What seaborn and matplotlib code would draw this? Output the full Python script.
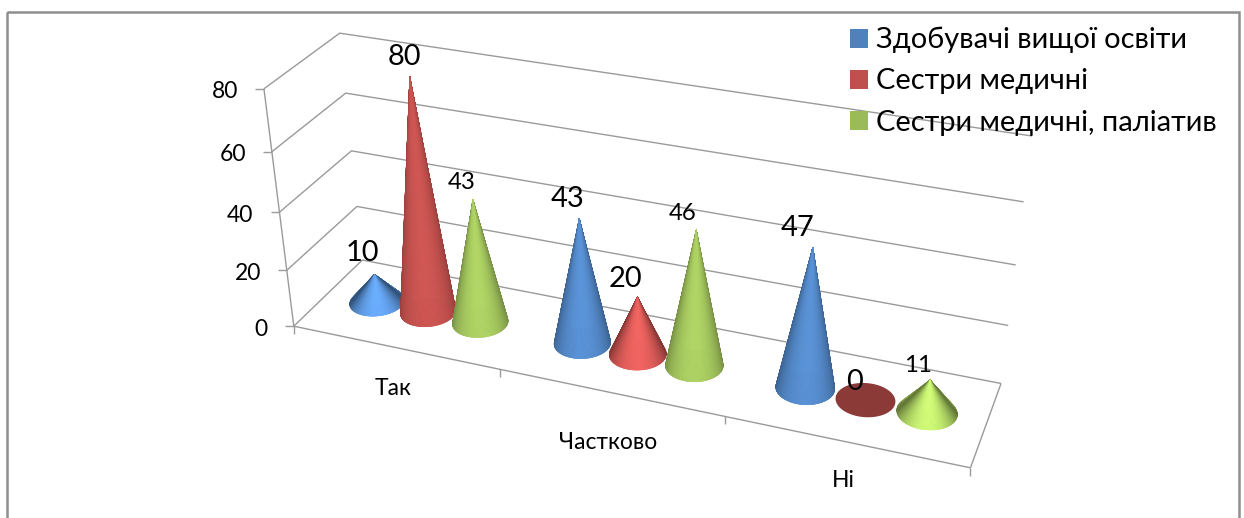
import numpy as np
import pandas as pd
import matplotlib
matplotlib.use("Agg")
import matplotlib.pyplot as plt
from matplotlib.collections import PolyCollection
from matplotlib.patches import Patch, Polygon, Rectangle
import seaborn as sns

# Survey results
categories = ["Так", "Частково", "Ні"]
series_names = ["Здобувачі вищої освіти", "Сестри медичні", "Сестри медичні, паліатив"]
students = [10, 43, 47]
nurses = [80, 20, 0]
palliative_nurses = [43, 46, 11]
value_ticks = [0, 20, 40, 60, 80]
series_colors = ["#4F81BD", "#C0504D", "#9BBB59"]

# Label styling per series and category (font px, x and y nudges px)
label_px = [[29, 29, 29], [29, 29, 29], [24, 24, 24]]
label_dx = [[-12, -12, -15], [-5, -12, -11], [-11, -14, -12]]
label_dy = [[-21, -20, -19], [-20, -18, -18], [-17, -17, -15]]
category_dy = [41, 50, 39]

sns.set_theme(style="white")
plt.rcParams["font.family"] = ["Lato", "Noto Sans", "DejaVu Sans"]

values = pd.DataFrame(
    {"series": np.repeat(series_names, 3),
     "category": categories * 3,
     "value": students + nurses + palliative_nurses}
)
palette = dict(zip(series_names, sns.color_palette(series_colors)))

# Perspective camera calibrated on the chart box corners: (category, depth, value) -> canvas
box_points = np.array([
    (0, 0, 0, 294.3, 326), (1, 0, 0, 500, 370), (2, 0, 0, 724, 416), (3, 0, 0, 971.7, 467.7),
    (0, 0, 20, 286.7, 270), (0, 0, 40, 279.3, 211.7), (0, 0, 60, 272, 152.3), (0, 0, 80, 264, 89.3),
    (0, 1, 0, 362, 262), (0, 1, 20, 357.3, 206), (0, 1, 40, 352, 150.3), (0, 1, 60, 345.7, 92.3),
    (0, 1, 80, 339.3, 32.7),
    (3, 1, 0, 1001, 383), (3, 1, 20, 1008, 325), (3, 1, 40, 1016, 265), (3, 1, 60, 1023, 202),
    (3, 1, 80, 1032, 137),
])
rows, rhs = [], []
for cx, cy, cz, px, py in box_points:
    cz = cz / 80
    rows.append([cx, cy, cz, 1, 0, 0, 0, 0, -px * cx, -px * cy, -px * cz])
    rows.append([0, 0, 0, 0, cx, cy, cz, 1, -py * cx, -py * cy, -py * cz])
    rhs += [px, py]
camera = np.append(np.linalg.lstsq(np.array(rows), np.array(rhs), rcond=None)[0], 1).reshape(3, 4)


def project(x, y, z):
    x, y, z = np.broadcast_arrays(np.asarray(x, float), np.asarray(y, float), np.asarray(z, float) / 80)
    h = camera @ np.stack([x.ravel(), y.ravel(), z.ravel(), np.ones(x.size)])
    return np.column_stack([h[0] / h[2], h[1] / h[2]])


fig = plt.figure(figsize=(12.44, 5.18), dpi=100)
ax = fig.add_axes([0, 0, 1, 1])
ax.set_xlim(0, 1244)
ax.set_ylim(518, 0)
ax.axis("off")

ax.add_patch(Rectangle((6.5, 12), 1232.5, 530, fill=False, ec="#8f8f8f", lw=1.8))

# Chart box: wall gridlines, side wall, floor outline and axes
grid = dict(color="#9a9a9a", lw=1.0, solid_capstyle="butt", zorder=1)
for v in value_ticks:
    ax.plot(*project([0, 0, 3], [0, 1, 1], v).T, **grid)
    start = project(0, 0, v)[0]
    ax.plot([start[0] - 8.5, start[0]], [start[1], start[1]], **grid)
    ax.text(start[0] - 26, start[1] + 3, str(v), ha="right", va="center", fontsize=16.5, color="black")
ax.plot(*project([0, 3, 3], [0, 0, 1], 0).T, **grid)
ax.plot(*project([0, 0], [0, 0], [0, 80]).T, **grid)
for i in range(len(categories) + 1):
    foot = project(i, 0, 0)[0]
    ax.plot([foot[0], foot[0]], [foot[1], foot[1] + 8], **grid)
for i, name in enumerate(categories):
    foot = project(i + 0.5, 0, 0)[0]
    ax.text(foot[0] - 2, foot[1] + category_dy[i], name, ha="center", va="center", fontsize=16.5, color="black")

# Cone layout inside each category
n_series = len(series_names)
gap = 0.9
cone_pitch = 1 / (n_series + gap)
cone_radius = cone_pitch / 2 * 0.95
depth_radius = 0.2
theta = np.linspace(0, 2 * np.pi, 181)
mids = (theta[:-1] + theta[1:]) / 2
back_to_front = np.argsort(-np.sin(mids))


def draw_cone(cat, s, value, color):
    cx = cat + (gap / 2 + s + 0.5) * cone_pitch + 0.002
    rim = project(cx + cone_radius * np.cos(theta), 0.5 + depth_radius * np.sin(theta), 0)
    base_rgb = np.array(color)
    z = 10 + cat * 2 + s
    ax.add_patch(Polygon(rim, closed=True, fc=base_rgb * 0.73, ec="none", zorder=z))
    apex = project(cx, 0.5, value)[0]
    centre = project(cx, 0.5, 0)[0]
    if value > 0:
        half_w = (rim[:, 0].max() - rim[:, 0].min()) / 2
        height = np.hypot(*(apex - centre))
        flat = half_w / (half_w + height)
        edge_gain = 0.84 - 0.45 * flat
        centre_gain = min(1.0 + 0.8 * flat, 1.36)
        mid_x = (rim[:, 0].max() + rim[:, 0].min()) / 2
        polys, colors = [], []
        for k in back_to_front:
            pts = project(cx + cone_radius * np.cos(mids[k]), 0.5 + depth_radius * np.sin(mids[k]), 0)[0]
            t = np.clip((pts[0] - mid_x) / half_w, -1, 1)
            gain = edge_gain + (centre_gain - edge_gain) * np.sqrt(1 - t ** 2) ** 1.2
            polys.append([apex, rim[k], rim[k + 1]])
            colors.append(np.clip(base_rgb * gain, 0, 1))
        ax.add_collection(PolyCollection(polys, facecolors=colors, edgecolors=colors, linewidths=0.4, zorder=z))
    return apex


for s, (name, group) in enumerate(values.groupby("series", sort=False)):
    for cat, value in enumerate(group["value"]):
        tip = draw_cone(cat, s, value, palette[name])
        ax.annotate(str(value), xy=tip, xytext=(label_dx[s][cat] * 0.72, -label_dy[s][cat] * 0.72),
                    textcoords="offset points", ha="center", va="center",
                    fontsize=label_px[s][cat] * 0.72, color="black", zorder=40)

handles = [Patch(fc=palette[n], ec="none", label=n) for n in series_names]
ax.legend(handles=handles, loc="upper left", bbox_to_anchor=(850, 27), bbox_transform=ax.transData,
          frameon=False, fontsize=20.85, borderpad=0, borderaxespad=0, handlelength=0.62, handleheight=0.62,
          handletextpad=0.29, labelspacing=0.52, labelcolor="black")

fig.savefig("out.png", dpi=100, facecolor="white")
